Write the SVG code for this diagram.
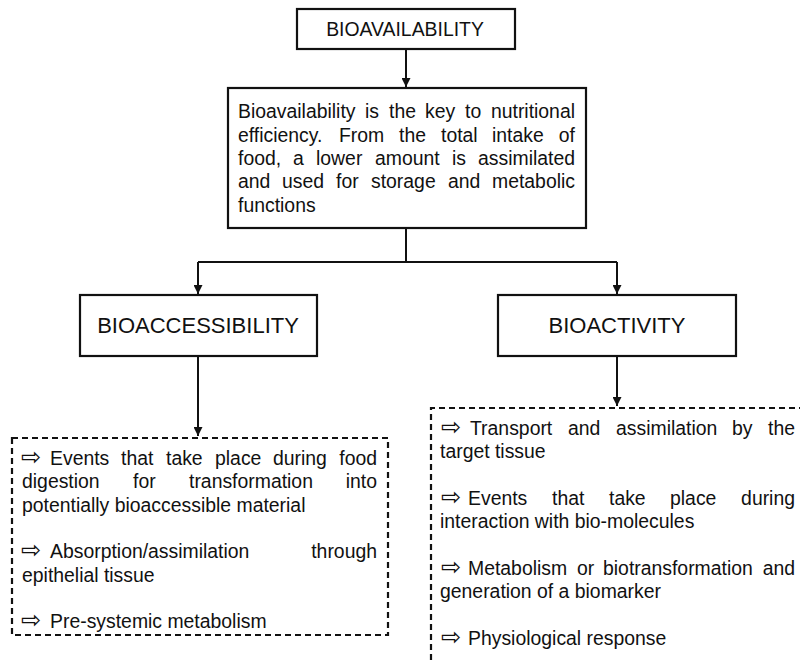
<svg xmlns="http://www.w3.org/2000/svg" width="800" height="661" viewBox="0 0 800 661">
<defs>
<marker id="ah" viewBox="0 0 10 10" refX="10" refY="5" markerWidth="4.5" markerHeight="4.5" orient="auto" markerUnits="strokeWidth">
<path d="M0,0 L10,5 L0,10 z" fill="#111"/>
</marker>
</defs>
<style>
.box{fill:#fff;stroke:#111;stroke-width:2.2}
.dash{fill:none;stroke:#111;stroke-width:2.2;stroke-dasharray:6 4}
.con{fill:none;stroke:#111;stroke-width:2}
text{font-family:"Liberation Sans",Arial,sans-serif;fill:#111;font-size:19.4px}
.h{font-size:22px;text-anchor:middle}
.ar{font-family:"DejaVu Sans",sans-serif;font-size:24px}
</style>
<rect width="800" height="661" fill="#fff"/>
<g id="connectors">
<path class="con" d="M406,49 V87" marker-end="url(#ah)"/>
<path class="con" d="M406,228 V262 M198,262 H617"/>
<path class="con" d="M198,262 V294" marker-end="url(#ah)"/>
<path class="con" d="M617,262 V294" marker-end="url(#ah)"/>
<path class="con" d="M198,356 V436" marker-end="url(#ah)"/>
<path class="con" d="M617,356 V406" marker-end="url(#ah)"/>
</g>
<g id="bioavailability">
<rect class="box" x="297" y="9" width="218" height="40"/>
<text class="h" x="405" y="36" style="font-size:19.4px">BIOAVAILABILITY</text>
</g>
<g id="definition">
<rect class="box" x="228" y="88" width="358" height="140"/>
<text y="118"><tspan x="238">Bioavailability</tspan><tspan x="365">is</tspan><tspan x="389">the</tspan><tspan x="425">key</tspan><tspan x="465">to</tspan><tspan x="575" text-anchor="end">nutritional</tspan></text>
<text y="142"><tspan x="238">efficiency.</tspan><tspan x="339">From</tspan><tspan x="399">the</tspan><tspan x="441">total</tspan><tspan x="492">intake</tspan><tspan x="575" text-anchor="end">of</tspan></text>
<text y="165"><tspan x="238">food,</tspan><tspan x="293">a</tspan><tspan x="316">lower</tspan><tspan x="375">amount</tspan><tspan x="452">is</tspan><tspan x="575" text-anchor="end">assimilated</tspan></text>
<text y="188"><tspan x="238">and</tspan><tspan x="282">used</tspan><tspan x="336">for</tspan><tspan x="371">storage</tspan><tspan x="448">and</tspan><tspan x="575" text-anchor="end">metabolic</tspan></text>
<text y="212"><tspan x="238">functions</tspan></text>
</g>
<g id="bioaccessibility">
<rect class="box" x="80" y="295" width="237" height="61"/>
<text class="h" x="198" y="333">BIOACCESSIBILITY</text>
</g>
<g id="bioactivity">
<rect class="box" x="498" y="295" width="238" height="61"/>
<text class="h" x="617" y="333">BIOACTIVITY</text>
</g>
<g id="bioaccessibility-events">
<rect class="dash" x="12" y="438" width="376" height="197"/>
<text y="465"><tspan class="ar" x="21">⇨</tspan><tspan x="50">Events</tspan><tspan x="121">that</tspan><tspan x="166">take</tspan><tspan x="215">place</tspan><tspan x="273">during</tspan><tspan x="377" text-anchor="end">food</tspan></text>
<text y="488"><tspan x="22">digestion</tspan><tspan x="133">for</tspan><tspan x="189">transformation</tspan><tspan x="377" text-anchor="end">into</tspan></text>
<text y="512"><tspan x="22">potentially bioaccessible material</tspan></text>
<text y="558"><tspan class="ar" x="21">⇨</tspan><tspan x="50">Absorption/assimilation</tspan><tspan x="377" text-anchor="end">through</tspan></text>
<text y="582"><tspan x="22">epithelial tissue</tspan></text>
<text y="628"><tspan class="ar" x="21">⇨</tspan><tspan x="50">Pre-systemic metabolism</tspan></text>
</g>
<g id="bioactivity-events">
<path class="dash" d="M431,670 V408 H810"/>
<text y="435"><tspan class="ar" x="441">⇨</tspan><tspan x="470">Transport</tspan><tspan x="568">and</tspan><tspan x="616">assimilation</tspan><tspan x="732">by</tspan><tspan x="795" text-anchor="end">the</tspan></text>
<text y="458"><tspan x="440">target tissue</tspan></text>
<text y="505"><tspan class="ar" x="441">⇨</tspan><tspan x="468">Events</tspan><tspan x="552">that</tspan><tspan x="609">take</tspan><tspan x="670">place</tspan><tspan x="795" text-anchor="end">during</tspan></text>
<text y="528"><tspan x="440">interaction with bio-molecules</tspan></text>
<text y="575"><tspan class="ar" x="441">⇨</tspan><tspan x="468">Metabolism</tspan><tspan x="577">or</tspan><tspan x="603">biotransformation</tspan><tspan x="795" text-anchor="end">and</tspan></text>
<text y="598"><tspan x="440">generation of a biomarker</tspan></text>
<text y="645"><tspan class="ar" x="441">⇨</tspan><tspan x="468">Physiological response</tspan></text>
</g>
</svg>
